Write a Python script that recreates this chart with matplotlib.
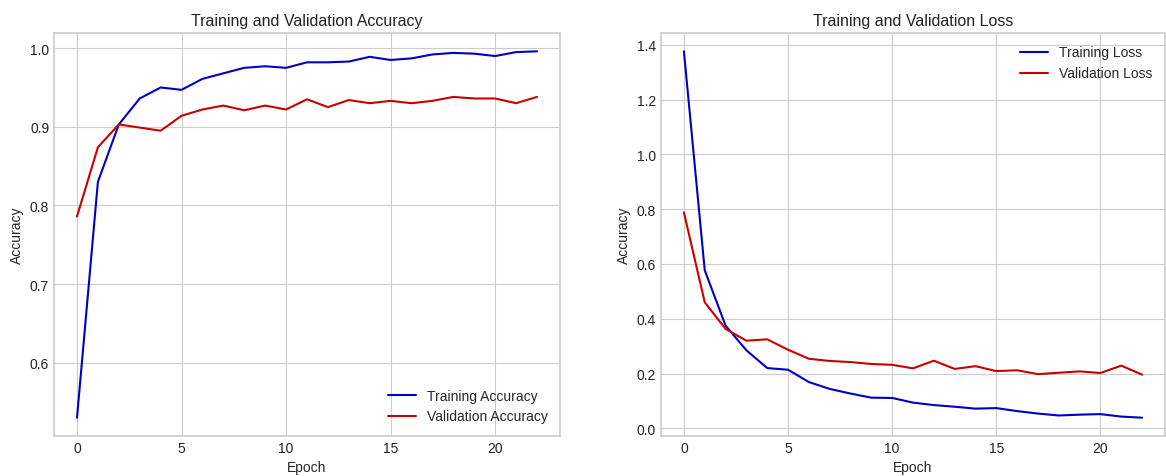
import matplotlib
matplotlib.use("Agg")
import matplotlib.pyplot as plt

epochs = list(range(23))
train_acc = [0.530, 0.830, 0.903, 0.936, 0.950, 0.947, 0.961, 0.968, 0.975, 0.977,
             0.975, 0.982, 0.982, 0.983, 0.989, 0.985, 0.987, 0.992, 0.994, 0.993,
             0.990, 0.995, 0.996]
val_acc = [0.786, 0.874, 0.903, 0.899, 0.895, 0.914, 0.922, 0.927, 0.921, 0.927,
           0.922, 0.935, 0.925, 0.934, 0.930, 0.933, 0.930, 0.933, 0.938, 0.936,
           0.936, 0.930, 0.938]
train_loss = [1.376, 0.577, 0.375, 0.285, 0.220, 0.214, 0.169, 0.144, 0.127, 0.112,
              0.111, 0.094, 0.085, 0.079, 0.072, 0.074, 0.063, 0.054, 0.047, 0.050,
              0.052, 0.043, 0.039]
val_loss = [0.788, 0.460, 0.363, 0.320, 0.325, 0.287, 0.254, 0.246, 0.242, 0.235,
            0.232, 0.219, 0.247, 0.217, 0.227, 0.209, 0.212, 0.198, 0.203, 0.208,
            0.202, 0.229, 0.196]

plt.style.use("seaborn-v0_8-whitegrid")
plt.rcParams['font.family'] = ['Liberation Sans', 'DejaVu Sans']
plt.rcParams['font.size'] = 10

BLUE = '#0000c0'
RED = '#c80000'
FS = 10

fig = plt.figure(figsize=(11.66, 4.77), dpi=100)
ax1 = fig.add_axes([54/1166, 40/477, 506/1166, 403/477])
ax2 = fig.add_axes([661/1166, 40/477, 504/1166, 403/477])

for ax in (ax1, ax2):
    for s in ax.spines.values():
        s.set_visible(True)
        s.set_color('#cccccc')
        s.set_linewidth(1.2)
    ax.tick_params(labelsize=FS, colors='#222222')

ax1.plot(epochs, train_acc, color=BLUE, label='Training Accuracy', linewidth=1.5)
ax1.plot(epochs, val_acc, color=RED, label='Validation Accuracy', linewidth=1.5)
ax1.set_title('Training and Validation Accuracy', fontsize=11.5, color='#222222')
ax1.set_xlabel('Epoch', fontsize=FS)
ax1.set_ylabel('Accuracy', fontsize=FS)
ax1.legend(loc='lower right', fontsize=FS, frameon=False)

ax2.plot(epochs, train_loss, color=BLUE, label='Training Loss', linewidth=1.5)
ax2.plot(epochs, val_loss, color=RED, label='Validation Loss', linewidth=1.5)
ax2.set_title('Training and Validation Loss', fontsize=11.5, color='#222222')
ax2.set_xlabel('Epoch', fontsize=FS)
ax2.set_ylabel('Accuracy', fontsize=FS)
ax2.legend(loc='upper right', fontsize=FS, frameon=False)

fig.savefig('out.png', dpi=100)
